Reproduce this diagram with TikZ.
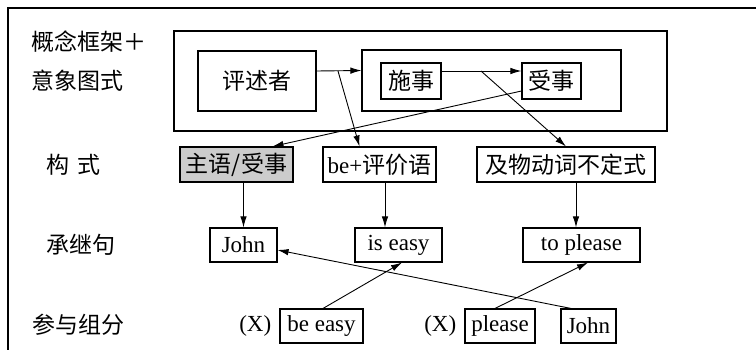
\documentclass[tikz,border=0pt]{standalone}
\usepackage{fontspec}
\setmainfont{Liberation Serif}
\newfontfamily\cjk{Noto Sans CJK SC}
\usetikzlibrary{arrows.meta,positioning}

\begin{document}
\begin{tikzpicture}[x=1pt, y=-1pt, font=\fontsize{23}{27}\selectfont,
    box/.style={draw, line width=1.1pt, inner sep=0pt},
    arr/.style={-{Latex[length=11pt,width=6.5pt]}, line width=0.9pt}]
    \useasboundingbox (0,0) rectangle (756,350);
    \draw[line width=1.1pt] (756,8) -- (8,8) -- (8,350);

    % row labels on the left
    \node (l1) at (31, 42) [anchor=west, inner sep=0pt] {\cjk 概念框架＋};
    \node (l2) at (31, 81) [anchor=west, inner sep=0pt] {\cjk 意象图式};
    \node (l3) at (46, 165) [anchor=west, inner sep=0pt] {\cjk 构\hspace{8pt}式};
    \node (l4) at (46, 245) [anchor=west, inner sep=0pt] {\cjk 承继句};
    \node (l5) at (32, 325) [anchor=west, inner sep=0pt] {\cjk 参与组分};

    % conceptual frame
    \node (frame) at (420.5, 81) [box, line width=1.6pt, minimum width=493pt, minimum height=100pt] {};
    \node (reviewer) at (257, 81) [box, minimum width=118pt, minimum height=60pt] {\cjk 评述者};
    \node (inner) at (491.5, 80.5) [box, minimum width=259pt, minimum height=61pt] {};
    \node (agent) at (411, 81) [box, minimum width=60pt, minimum height=36pt] {\cjk 施事};
    \node (patient) at (551.5, 81) [box, minimum width=59pt, minimum height=36pt] {\cjk 受事};

    % constructions
    \node (subj) at (236.5, 164.5) [box, fill=gray!40, minimum width=113pt, minimum height=35pt] {\cjk 主语/受事};
    \node (be) at (379.5, 164.5) [box, minimum width=113pt, minimum height=35pt] {be+{\cjk 评价语}};
    \node (verb) at (566, 164.5) [box, minimum width=178pt, minimum height=35pt] {\cjk 及物动词不定式};

    % inherited sentence
    \foreach \n/\x/\w/\t in {john1/243.5/67/John, iseasy/398.5/87/is easy, toplease/581.5/117/to please} {
        \node (\n) at (\x, 245) [box, minimum width=\w pt, minimum height=34pt] {\t};
    }

    % components
    \foreach \n/\x/\w/\t in {beeasy/321.5/83/be easy, please/500/70/please, john2/588.5/55/John} {
        \node (\n) at (\x, 326) [box, minimum width=\w pt, minimum height=34pt] {\t};
    }
    \node (x1) [left=8pt of beeasy, inner sep=0pt] {(X)};
    \node (x2) [left=8pt of please, inner sep=0pt] {(X)};

    \coordinate (s1) at (338, 71);
    \coordinate (s2) at (481, 71);

    \draw[arr] ([yshift=10pt]reviewer.east) -- ([yshift=10pt]inner.west);
    \draw[arr] ([yshift=10pt]agent.east) -- ([yshift=10pt]patient.west);
    \draw[arr] (s1) -- ([xshift=-20pt]be.north);
    \draw[arr] (s2) -- (verb.north);
    \draw[arr] ([yshift=-10pt]patient.west) -- ([xshift=36pt]subj.north);

    \draw[arr] (john1.north |- subj.south) -- (john1.north);
    \draw[arr] ([xshift=5.5pt]be.south) -- ([xshift=5.5pt]be.south |- iseasy.north);
    \draw[arr] ([xshift=10pt]verb.south) -- ([xshift=10pt]verb.south |- toplease.north);

    \draw[arr] ([xshift=1.5pt]beeasy.north) -- ([xshift=3.5pt]iseasy.south);
    \draw[arr] ([xshift=-5pt]please.north) -- ([xshift=6.5pt]toplease.south);
    \draw[arr] ([xshift=-17.5pt]john2.north) -- ([yshift=-5pt]john1.east);
\end{tikzpicture}
\end{document}
